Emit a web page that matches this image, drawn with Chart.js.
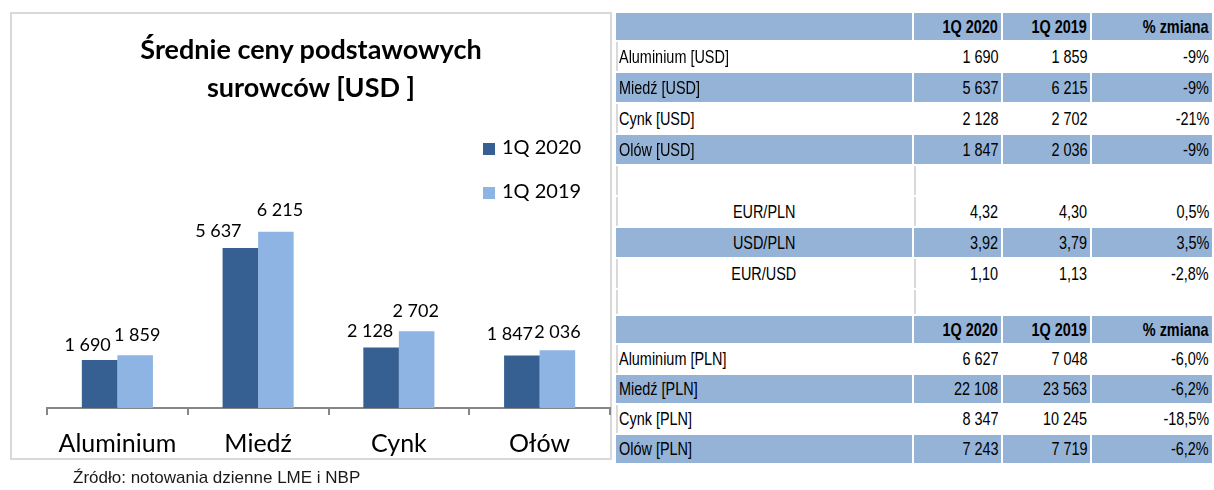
<!DOCTYPE html>
<html><head><meta charset="utf-8">
<script src="https://cdn.jsdelivr.net/npm/chart.js@4.4.0/dist/chart.umd.min.js"></script>
<style>
html,body{margin:0;padding:0;background:#fff;width:1214px;height:490px;overflow:hidden;position:relative;}
#frame{position:absolute;left:10px;top:12px;width:598px;height:444px;border:2px solid #d9d9d9;}
#cv{position:absolute;left:10px;top:12px;}
#title{position:absolute;left:10px;width:602px;top:30px;text-align:center;font:bold 27px Lato,sans-serif;line-height:38px;color:#000;}
.lg{position:absolute;left:483px;font:20px Lato,sans-serif;color:#000;line-height:24px;}
.lg span{display:inline-block;width:12px;height:12px;margin-right:7px;vertical-align:-1px;}
#src{position:absolute;left:73px;top:467px;font:17px "Liberation Sans",Arial,sans-serif;color:#1a1a1a;line-height:22px;}
#tbl{position:absolute;left:614px;top:11px;border-collapse:separate;border-spacing:2px;font:19px "Liberation Sans",Arial,sans-serif;color:#000;}
#tbl td{height:29px;padding:0 3px 0 3px;white-space:nowrap;box-sizing:border-box;}
#tbl tr.h td{height:27px;font-weight:bold;}
#tbl tr.s2 td{height:28px;}
#tbl td.n{text-align:right;}
#tbl tr.b td{background:#95b3d7;}
#tbl td.c{text-align:center;}
#tbl td span{display:inline-block;transform:scaleX(0.76);}
#tbl td.l span{transform-origin:left center;}
#tbl td.n span{transform-origin:right center;}
#tbl td.c span{transform-origin:center center;}
#tbl tr.w td.l{box-shadow:inset 2px 0 0 #d9d9d9;}
#tbl tr.m td.k{box-shadow:inset 2px 0 0 #d9d9d9;}
</style></head>
<body>
<div id="frame"></div>
<canvas id="cv" width="602" height="465"></canvas>
<div id="title">Średnie ceny podstawowych<br>surowców [USD ]</div>
<div class="lg" style="top:134px"><span style="background:#376092"></span>1Q 2020</div>
<div class="lg" style="top:178px"><span style="background:#8eb4e3"></span>1Q 2019</div>
<div id="src">Źródło: notowania dzienne LME i NBP</div>
<table id="tbl"></table>
<script>
// ---- chart data ----
const categories = ['Aluminium', 'Miedź', 'Cynk', 'Ołów'];
const seriesNames = ['1Q 2020', '1Q 2019'];
const values2020 = [1690, 5637, 2128, 1847];
const values2019 = [1859, 6215, 2702, 2036];

// ---- table data ----
const tableHeader = ['', '1Q 2020', '1Q 2019', '% zmiana'];
const usdLabels = ['Aluminium [USD]', 'Miedź [USD]', 'Cynk [USD]', 'Olów [USD]'];
const usd2020 = [1690, 5637, 2128, 1847];
const usd2019 = [1859, 6215, 2702, 2036];
const usdChange = [-9, -9, -21, -9];
const fxLabels = ['EUR/PLN', 'USD/PLN', 'EUR/USD'];
const fx2020 = [4.32, 3.92, 1.10];
const fx2019 = [4.30, 3.79, 1.13];
const fxChange = [0.5, 3.5, -2.8];
const plnLabels = ['Aluminium [PLN]', 'Miedź [PLN]', 'Cynk [PLN]', 'Olów [PLN]'];
const pln2020 = [6627, 22108, 8347, 7243];
const pln2019 = [7048, 23563, 10245, 7719];
const plnChange = [-6.0, -6.2, -18.5, -6.2];

function fmtInt(v){ return String(Math.round(v)).replace(/\B(?=(\d{3})+(?!\d))/g, '\u00a0'); }
function fmtDec(v, d){ return v.toFixed(d).replace('.', ','); }
function fmtPct(v, d){ return fmtDec(v, d) + '%'; }

// ---- build table ----
const tbl = document.getElementById('tbl');
const widths = [297, 87, 87, 120];
function addRow(cls, cells, labelCls){
  const tr = document.createElement('tr'); tr.className = cls;
  cells.forEach((t, i) => {
    const td = document.createElement('td');
    td.style.width = widths[i] + 'px';
    if (t !== '') { const s = document.createElement('span'); s.textContent = t; td.appendChild(s); }
    if (i === 0) td.className = labelCls ? labelCls + ' l0' : 'l';
    else td.className = 'n' + (i === 1 ? ' k' : '');
    tr.appendChild(td);
  });
  tbl.appendChild(tr);
  return tr;
}
addRow('b h', tableHeader);
usdLabels.forEach((l, i) => addRow(i % 2 ? 'b' : 'w', [l, fmtInt(usd2020[i]), fmtInt(usd2019[i]), fmtPct(usdChange[i], 0)]));
addRow('w m', ['', '', '', '']);
fxLabels.forEach((l, i) => addRow(i % 2 ? 'b' : 'w m', [l, fmtDec(fx2020[i], 2), fmtDec(fx2019[i], 2), fmtPct(fxChange[i], 1)], 'c'));
const sp = addRow('w m', ['', '', '', '']);
sp.querySelectorAll('td').forEach(td => td.style.height = '24px');
addRow('b h', tableHeader);
plnLabels.forEach((l, i) => addRow((i % 2 ? 'b' : 'w') + ' s2', [l, fmtInt(pln2020[i]), fmtInt(pln2019[i]), fmtPct(plnChange[i], 1)]));
document.querySelectorAll('#tbl tr.w td.l0').forEach(td => td.style.boxShadow = 'inset 2px 0 0 #d9d9d9');

// ---- chart ----
const barLabels = {
  id: 'barLabels',
  afterDatasetsDraw(chart, args, opts){
    const ctx = chart.ctx; ctx.save();
    ctx.font = opts.font; ctx.fillStyle = '#000';
    ctx.textAlign = 'center'; ctx.textBaseline = 'middle';
    chart.data.datasets.forEach((ds, di) => {
      chart.getDatasetMeta(di).data.forEach((bar, i) => {
        ctx.fillText(fmtInt(ds.data[i]), bar.x + opts.dx[di][i], bar.y - opts.dy[di][i]);
      });
    });
    ctx.restore();
  }
};

new Chart(document.getElementById('cv'), {
  type: 'bar',
  data: {
    labels: categories,
    datasets: [
      { label: seriesNames[0], data: values2020, backgroundColor: '#376092' },
      { label: seriesNames[1], data: values2019, backgroundColor: '#8eb4e3' }
    ]
  },
  options: {
    responsive: false, animation: false, devicePixelRatio: 1,
    layout: { padding: { left: 37, right: 2, top: 169, bottom: 4 } },
    categoryPercentage: 0.505, barPercentage: 1.0,
    plugins: {
      legend: { display: false }, tooltip: { enabled: false }, title: { display: false },
      barLabels: {
        font: '18px Lato',
        dx: [[-12, -22, -11, -12], [2, 4, -1, 0]],
        dy: [[15, 16.5, 16, 21], [20.5, 21, 20.5, 18.5]]
      }
    },
    scales: {
      y: { display: false, min: 0, max: 8000 },
      x: {
        grid: { display: true, drawOnChartArea: false, tickLength: 7, color: '#868686', lineWidth: 2, offset: true },
        border: { display: true, color: '#868686', width: 2 },
        ticks: { color: '#000', font: { family: 'Lato', size: 25 }, padding: 14 }
      }
    }
  },
  plugins: [barLabels]
});
</script>
</body></html>
